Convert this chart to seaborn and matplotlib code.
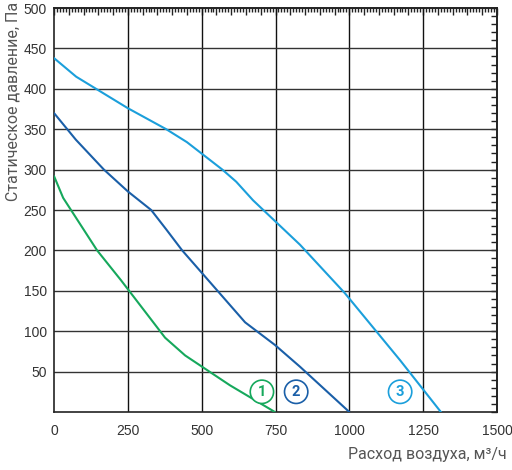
import matplotlib
matplotlib.use("Agg")
import matplotlib.pyplot as plt
import seaborn as sns
import pandas as pd
from matplotlib.ticker import MultipleLocator, FuncFormatter

# Data
curve1_x = [0, 31, 146, 227, 376, 444, 596, 748]
curve1_y = [292, 265, 200, 163, 92, 70, 33, 0]
curve2_x = [0, 74, 169, 250, 329, 380, 434, 647, 748, 833, 1000]
curve2_y = [370, 337, 300, 273, 250, 226, 200, 111, 83, 56, 0]
curve3_x = [0, 75, 250, 380, 450, 570, 617, 674, 833, 985, 1172, 1310]
curve3_y = [438, 415, 376, 350, 334, 300, 285, 262, 207, 147, 64, 0]
series_names = ["1", "2", "3"]
label_pos_x = [704, 820, 1172]
label_pos_y = [25, 25, 25]
x_tick_labels = [0, 250, 500, 750, 1000, 1250, 1500]
y_tick_labels = [50, 100, 150, 200, 250, 300, 350, 400, 450, 500]
x_title = "Расход воздуха, м³/ч"
y_title = "Статическое давление, Па"

colors = ["#16a85c", "#1a5fa8", "#1b9fdb"]

sns.set_style("white")
plt.rcParams["font.family"] = ["Roboto", "DejaVu Sans"]

df = pd.concat([
    pd.DataFrame({"x": curve1_x, "y": curve1_y, "s": "1"}),
    pd.DataFrame({"x": curve2_x, "y": curve2_y, "s": "2"}),
    pd.DataFrame({"x": curve3_x, "y": curve3_y, "s": "3"}),
])

fig = plt.figure(figsize=(5.12, 4.70), dpi=100)
ax = fig.add_axes([54 / 512, 1 - 412 / 470, (497 - 54) / 512, (412 - 8) / 470])

# grid
for xv in x_tick_labels[1:-1]:
    ax.axvline(xv, color="#111111", lw=1.0, zorder=1)
for yv in y_tick_labels[:-1]:
    ax.axhline(yv, color="#333333", lw=1.0, zorder=1)

sns.lineplot(data=df, x="x", y="y", hue="s", palette=colors, sort=False,
             estimator=None, lw=1.5, legend=False, ax=ax, zorder=3)

ax.set_xlim(0, 1500)
ax.set_ylim(0, 500)

for name, lx, ly, c in zip(series_names, label_pos_x, label_pos_y, colors):
    ax.text(lx, ly, name, color=c, fontsize=10.5, fontweight="bold",
            ha="center", va="center", zorder=4,
            bbox=dict(boxstyle="circle,pad=0.32", fc="white", ec=c, lw=1.2))

tick_font = "Liberation Sans"

# bottom ticks
ax.xaxis.set_major_locator(MultipleLocator(50))
ax.xaxis.set_minor_locator(MultipleLocator(10))
ax.xaxis.set_major_formatter(FuncFormatter(lambda v, p: f"{int(v)}" if int(v) % 250 == 0 else ""))
ax.tick_params(axis="x", which="major", direction="inout", length=9, width=1,
               color="#222222", labelsize=10, labelcolor="#333333", pad=4,
               labelfontfamily=tick_font)
ax.tick_params(axis="x", which="minor", direction="inout", length=6, width=1, color="#222222")

# left ticks
ax.yaxis.set_major_locator(MultipleLocator(50))
ax.yaxis.set_minor_locator(MultipleLocator(10))
ax.yaxis.set_major_formatter(FuncFormatter(lambda v, p: f"{int(v)}" if v > 0 else ""))
ax.tick_params(axis="y", which="major", direction="inout", length=8, width=1,
               color="#222222", labelsize=10, labelcolor="#333333", pad=1,
               labelfontfamily=tick_font)
ax.tick_params(axis="y", which="minor", direction="inout", length=8, width=1, color="#222222")

# top/right ticks
sx = ax.secondary_xaxis("top")
sx.xaxis.set_major_locator(MultipleLocator(50))
sx.xaxis.set_minor_locator(MultipleLocator(10))
sx.tick_params(which="major", direction="in", length=5, width=1, color="#222222", labeltop=False)
sx.tick_params(which="minor", direction="in", length=3, width=1, color="#222222")
sy = ax.secondary_yaxis("right")
sy.yaxis.set_major_locator(MultipleLocator(10))
sy.yaxis.set_minor_locator(MultipleLocator(10))
sy.tick_params(which="major", direction="in", length=4, width=1, color="#222222", labelright=False)

for sp in ax.spines.values():
    sp.set_color("#222222")
    sp.set_linewidth(1.2)
    sp.set_visible(True)
for s in (sx, sy):
    for sp in s.spines.values():
        sp.set_color("#222222")
        sp.set_linewidth(1.2)

ax.set_xlabel("")
ax.set_ylabel("")
fig.text(507 / 512, 1 - 455 / 470, x_title, ha="right", va="center",
         fontsize=11.5, color="#555555")
fig.text(13 / 512, 1 - 2 / 470, y_title, ha="center", va="top", rotation=90,
         fontsize=11.5, color="#555555")

fig.savefig("out.png", dpi=100)
